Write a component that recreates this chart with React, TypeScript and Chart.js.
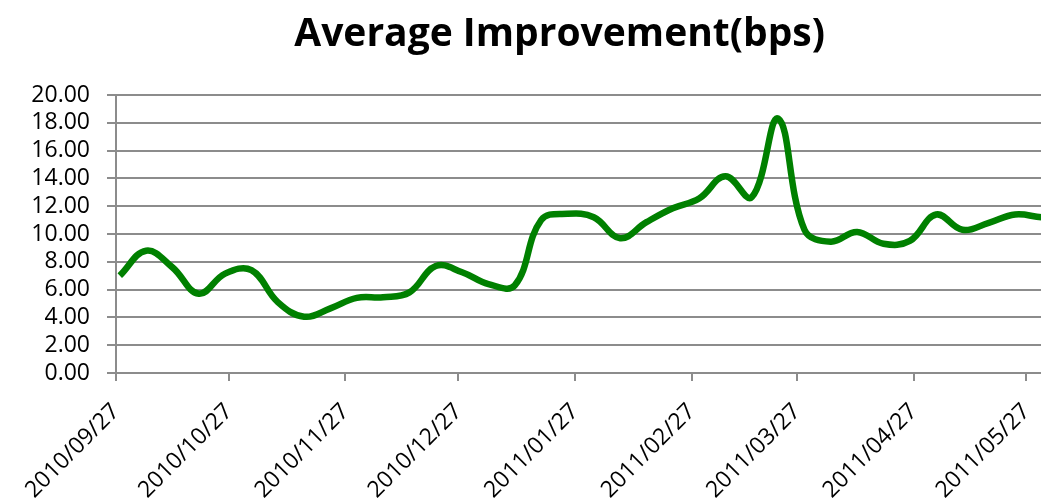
import React, { useEffect, useRef } from 'react';
import { Chart, registerables } from 'chart.js';

Chart.register(...registerables);

const title = 'Average Improvement(bps)';
const axisStart = '2010/09/27';
const tickLabels = [
  '2010/09/27', '2010/10/27', '2010/11/27', '2010/12/27', '2011/01/27',
  '2011/02/27', '2011/03/27', '2011/04/27', '2011/05/27',
];
const dates = [
  '2010/09/28', '2010/10/05', '2010/10/12', '2010/10/19', '2010/10/26',
  '2010/11/02', '2010/11/09', '2010/11/16', '2010/11/23', '2010/11/30',
  '2010/12/07', '2010/12/14', '2010/12/21', '2010/12/28', '2011/01/04',
  '2011/01/11', '2011/01/18', '2011/01/25', '2011/02/01', '2011/02/08',
  '2011/02/15', '2011/02/22', '2011/03/01', '2011/03/08', '2011/03/15',
  '2011/03/22', '2011/03/29', '2011/04/05', '2011/04/12', '2011/04/19',
  '2011/04/26', '2011/05/03', '2011/05/10', '2011/05/17', '2011/05/24',
  '2011/05/31', '2011/06/07',
];
const improvement = [
  7.0, 8.8, 7.6, 5.7, 7.15,
  7.4, 5.1, 4.05, 4.65, 5.4,
  5.45, 5.8, 7.7, 7.25, 6.4,
  6.3, 11.0, 11.45, 11.2, 9.7,
  10.85, 11.85, 12.55, 14.15, 12.65,
  18.3, 10.3, 9.45, 10.15, 9.3,
  9.5, 11.4, 10.3, 10.8, 11.4,
  11.2, 11.1,
];
const yTicks = { min: 0, max: 20, step: 2 };
const xMaxDays = 248;

function dayOf(s: string): number {
  const [y, m, d] = s.split('/').map(Number);
  const [y0, m0, d0] = axisStart.split('/').map(Number);
  return Math.round((Date.UTC(y, m - 1, d) - Date.UTC(y0, m0 - 1, d0)) / 86400000);
}

const tickDays = tickLabels.map(dayOf);
const FONT = 'Open Sans';
const GRID = '#8c8c8c';

export default function App() {
  const ref = useRef<HTMLCanvasElement | null>(null);
  useEffect(() => {
    if (!ref.current) return;
    const chart = new Chart(ref.current, {
      type: 'line',
      data: {
        datasets: [
          {
            data: dates.map((d, i) => ({ x: dayOf(d), y: improvement[i] })),
            borderColor: '#008000',
            borderWidth: 6.5,
            pointRadius: 0,
            tension: 0.4,
            fill: false,
            borderCapStyle: 'butt',
            borderJoinStyle: 'round',
          },
        ],
      },
      options: {
        animation: false,
        responsive: false,
        maintainAspectRatio: false,
        layout: { padding: { left: 0, top: 87, right: 0, bottom: 0 } },
        plugins: {
          legend: { display: false },
          tooltip: { enabled: false },
          title: { display: false },
        },
        scales: {
          x: {
            type: 'linear',
            min: 0,
            max: xMaxDays,
            afterBuildTicks: (s: any) => {
              s.ticks = tickDays.map((v) => ({ value: v }));
            },
            afterFit: (s: any) => {
              s.height = 130;
              s.paddingLeft = 0;
              s.paddingRight = 0;
            },
            ticks: {
              autoSkip: false,
              minRotation: 45,
              maxRotation: 45,
              padding: 17,
              color: '#000',
              font: { family: FONT, size: 23 },
              callback: (v: any) => {
                const i = tickDays.indexOf(Number(v));
                return i >= 0 ? tickLabels[i] : '';
              },
            },
            grid: {
              display: true,
              drawOnChartArea: false,
              drawTicks: true,
              tickLength: 8,
              color: GRID,
              lineWidth: 2,
            },
            border: { display: true, color: GRID, width: 2 },
          },
          y: {
            min: yTicks.min,
            max: yTicks.max,
            afterFit: (s: any) => {
              s.width = 108;
            },
            ticks: {
              stepSize: yTicks.step,
              autoSkip: false,
              padding: 17,
              color: '#000',
              font: { family: FONT, size: 23 },
              callback: (v: any) => Number(v).toFixed(2),
            },
            grid: {
              color: GRID,
              lineWidth: 2,
              tickLength: 9,
              drawTicks: true,
            },
            border: { display: true, color: GRID, width: 2 },
          },
        },
      },
    } as any);
    return () => chart.destroy();
  }, []);
  return (
    <div style={{ position: 'relative', width: 1041, height: 495 }}>
      <canvas ref={ref} width={1041} height={495} style={{ display: 'block' }} />
      <div
        style={{
          position: 'absolute',
          left: 551.6,
          top: 3,
          transform: 'translateX(-50%)',
          whiteSpace: 'nowrap',
          fontFamily: FONT,
          fontWeight: 'bold',
          fontSize: 39,
          lineHeight: '39px',
          color: '#000',
        }}
      >
        {title}
      </div>
    </div>
  );
}
